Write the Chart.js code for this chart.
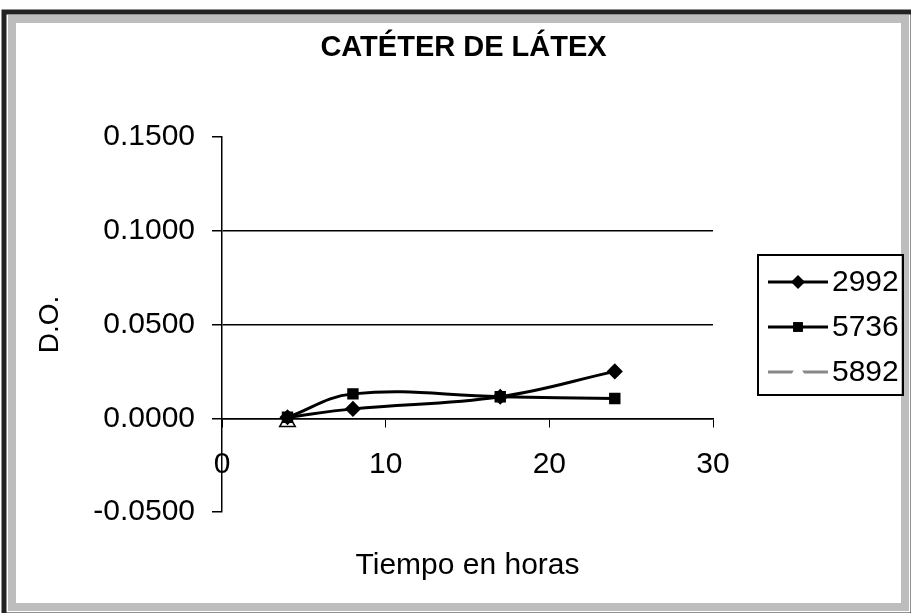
<!DOCTYPE html>
<html>
<head>
<meta charset="utf-8">
<script src="https://cdn.jsdelivr.net/npm/chart.js@4/dist/chart.umd.min.js"></script>
<style>
  html, body { margin: 0; padding: 0; background: #fff; }
  #wrap { width: 911px; height: 613px; position: relative; }
</style>
</head>
<body>
<div id="wrap"><canvas id="chart"></canvas></div>
<script>
// hours and D.O. readings
const hours = [4, 8, 17, 24];
const series2992 = [0.0005, 0.005, 0.0115, 0.025];
const series5736 = [0.0005, 0.013, 0.0115, 0.0105];
const series5892 = [-0.002, null, null, null];
const seriesNames = ['2992', '5736', '5892'];
const yTicks = [-0.05, 0, 0.05, 0.1, 0.15];
const xTicks = [0, 10, 20, 30];
const chartTitle = 'CATÉTER DE LÁTEX';

const FONT = 'Liberation Sans, Arial, sans-serif';

function toPoints(values) {
  return hours.map((h, i) => ({ x: h, y: values[i] })).filter((p) => p.y !== null);
}

// white page, title over the plot, scanned frame
const framePlugin = {
  id: 'frame',
  beforeDraw(chart) {
    const { ctx } = chart;
    ctx.save();
    ctx.fillStyle = '#fff';
    ctx.fillRect(0, 0, chart.width, chart.height);
    ctx.restore();
  },
  afterDraw(chart) {
    const { ctx, chartArea } = chart;
    ctx.save();
    ctx.fillStyle = '#000';
    ctx.font = 'bold 29px ' + FONT;
    ctx.textAlign = 'center';
    ctx.textBaseline = 'middle';
    ctx.fillText(chartTitle, (chartArea.left + chartArea.right) / 2 - 4, 48);

    ctx.strokeStyle = '#bdbdbd';
    ctx.lineWidth = 8;
    ctx.strokeRect(12, 19, chart.width - 18, chart.height - 25);
    ctx.strokeStyle = '#222';
    ctx.lineWidth = 5;
    ctx.strokeRect(4, 12, chart.width - 2, chart.height - 10);
    ctx.restore();
  }
};

// boxed legend with line + marker, like the old spreadsheet one
const boxLegend = {
  id: 'boxLegend',
  afterDraw(chart) {
    const { ctx, chartArea } = chart;
    const left = chartArea.right + 45;
    const top = 255;
    const w = 145, h = 140;
    ctx.save();
    ctx.strokeStyle = '#000';
    ctx.lineWidth = 2;
    ctx.strokeRect(left, top, w, h);
    ctx.font = '30px ' + FONT;
    ctx.textBaseline = 'middle';
    ctx.textAlign = 'left';
    chart.data.datasets.forEach((ds, i) => {
      const y = top + 27 + i * 45;
      ctx.strokeStyle = ds.borderColor;
      ctx.lineWidth = 3;
      ctx.beginPath();
      ctx.moveTo(left + 10, y);
      ctx.lineTo(left + 70, y);
      ctx.stroke();
      ctx.fillStyle = ds.pointBackgroundColor;
      ctx.strokeStyle = ds.pointBorderColor;
      ctx.lineWidth = ds.pointBorderWidth;
      Chart.helpers.drawPoint(ctx, { pointStyle: ds.pointStyle, radius: ds.pointRadius, rotation: 0 }, left + 40, y);
      ctx.fillStyle = '#000';
      ctx.fillText(ds.label, left + 74, y + 1);
    });
    ctx.restore();
  }
};

const makeSet = (label, values, style, radius, color, fill) => ({
  label,
  data: toPoints(values),
  borderColor: color,
  borderWidth: 3,
  pointStyle: style,
  pointRadius: radius,
  pointBackgroundColor: fill,
  pointBorderColor: '#000',
  pointBorderWidth: 1.5,
  tension: 0.4,
  fill: false
});

new Chart(document.getElementById('chart'), {
  type: 'line',
  data: {
    datasets: [
      makeSet(seriesNames[0], series2992, 'rectRot', 7, '#000', '#000'),
      makeSet(seriesNames[1], series5736, 'rect', 7, '#000', '#000'),
      makeSet(seriesNames[2], series5892, 'triangle', 9, '#888', '#fff')
    ]
  },
  options: {
    responsive: true,
    maintainAspectRatio: false,
    animation: false,
    layout: { padding: { left: 12, right: 198, top: 137, bottom: 101 } },
    plugins: {
      legend: { display: false },
      tooltip: { enabled: false },
      title: { display: false }
    },
    scales: {
      x: {
        type: 'linear',
        position: { y: 0 },
        min: 0,
        max: 30,
        afterFit: (s) => { s.height = 101; },
        afterBuildTicks: (s) => { s.ticks = xTicks.map((v) => ({ value: v })); },
        border: { display: true, color: '#000', width: 1.5 },
        grid: { drawOnChartArea: false, drawTicks: true, tickLength: 8, tickColor: '#000' },
        ticks: { color: '#000', padding: 20, font: { family: FONT, size: 30 } },
        title: {
          display: true,
          text: 'Tiempo en horas',
          color: '#000',
          font: { family: FONT, size: 30 },
          padding: { top: 0, bottom: -64 }
        }
      },
      y: {
        min: -0.05,
        max: 0.15,
        afterFit: (s) => { s.width = 210; },
        afterBuildTicks: (s) => { s.ticks = yTicks.map((v) => ({ value: v })); },
        border: { display: true, color: '#000', width: 1.5 },
        grid: {
          color: (c) => (c.tick && c.tick.value > -0.04 && c.tick.value < 0.14 ? '#000' : 'rgba(0,0,0,0)'),
          lineWidth: 1.5,
          drawTicks: true,
          tickLength: 10,
          tickColor: '#000'
        },
        ticks: {
          color: '#000',
          padding: 17,
          font: { family: FONT, size: 30 },
          callback: (v) => Number(v).toFixed(4)
        },
        title: {
          display: true,
          text: 'D.O.',
          color: '#000',
          font: { family: FONT, size: 28 },
          padding: { top: 21, bottom: 0 }
        }
      }
    }
  },
  plugins: [framePlugin, boxLegend]
});
</script>
</body>
</html>
